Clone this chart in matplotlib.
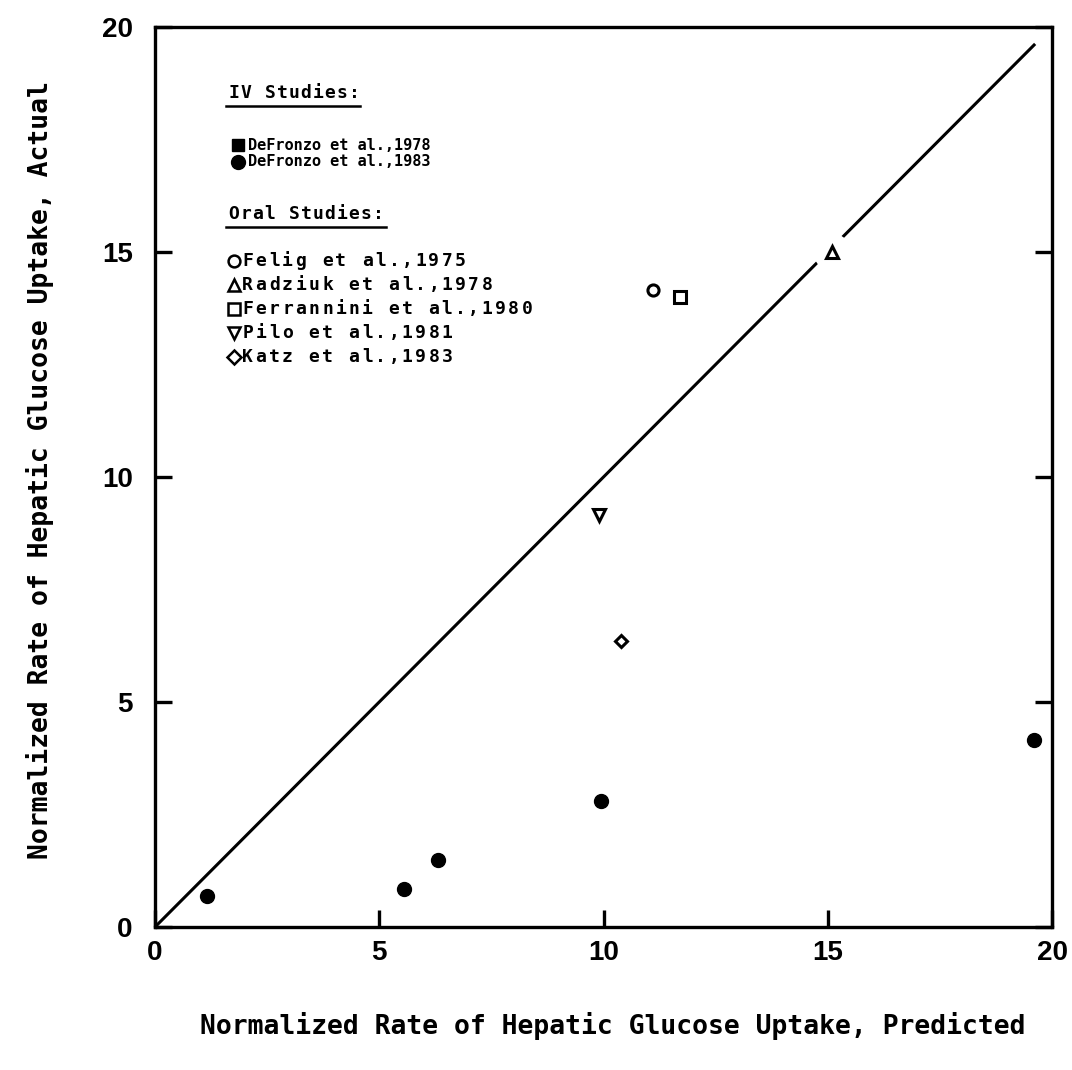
import matplotlib
matplotlib.use("Agg")
from matplotlib import pyplot as plt
from matplotlib.lines import Line2D

# predicted vs actual normalized hepatic glucose uptake
iv_1983_pred = [1.15, 5.55, 6.3, 9.95, 19.6]
iv_1983_act = [0.7, 0.85, 1.5, 2.8, 4.15]

oral_labels = ["Felig et al.,1975", "Radziuk et al.,1978", "Ferrannini et al.,1980",
               "Pilo et al.,1981", "Katz et al.,1983"]
oral_markers = ["o", "^", "s", "v", "D"]
oral_pred = [11.1, 15.1, 11.7, 9.9, 10.4]
oral_act = [14.15, 15.0, 14.0, 9.15, 6.35]

iv_labels = ["DeFronzo et al.,1978", "DeFronzo et al.,1983"]
iv_markers = ["s", "o"]

identity_end = 19.6
ticks = [0, 5, 10, 15, 20]

W, H = 1072, 1070
fig = plt.figure(figsize=(W / 100, H / 100), dpi=100)
ax = fig.add_axes([155 / W, (H - 927) / H, 897 / W, 900 / H])

# line of identity, with a break where the triangle sits
ax.plot([0, identity_end], [0, identity_end], color="black", lw=2.2, zorder=1)

ax.plot(iv_1983_pred, iv_1983_act, "o", color="black", ms=10, zorder=3)
for m, xp, yp in zip(oral_markers, oral_pred, oral_act):
    s = 6.5 if m == "D" else 8
    if m == "^":
        ax.plot(xp, yp, "o", color="white", ms=26, zorder=2)
    ax.plot(xp, yp, m, mfc="white", mec="black", mew=2.2, ms=s, zorder=3)

ax.set_xlim(0, 20)
ax.set_ylim(0, 20)
ax.set_xticks(ticks)
ax.set_yticks(ticks)
for sp in ax.spines.values():
    sp.set_linewidth(2.4)
ax.tick_params(direction="in", length=12, width=2.4, right=True, top=False,
               labelsize=20)
ax.tick_params(axis="x", pad=9)
ax.tick_params(axis="y", pad=16)
for lab in ax.get_xticklabels() + ax.get_yticklabels():
    lab.set_family("Liberation Sans")
    lab.set_weight("bold")

mono = dict(family="DejaVu Sans Mono", weight="bold")
fig.text(40 / W, 1 - 470 / H, "Normalized Rate of Hepatic Glucose Uptake, Actual",
         rotation=90, ha="center", va="center", fontsize=19, **mono)
fig.text(613 / W, 1 - 1026 / H, "Normalized Rate of Hepatic Glucose Uptake, Predicted",
         ha="center", va="center", fontsize=19, **mono)


def axpos(px, py):
    return (px - 155) / 897, (927 - py) / 900


def typed(text, px, py, pitch, size=13):
    # typewriter style: one character per fixed-width cell
    for i, ch in enumerate(text):
        x, y = axpos(px + pitch * (i + 0.5), py)
        ax.text(x, y, ch, transform=ax.transAxes, ha="center", va="center",
                fontsize=size, **mono)


def header(text, py, x1):
    typed(text, 228, py, 12.0)
    xa, ya = axpos(226, py + 13)
    xb, _ = axpos(x1, py + 13)
    ax.add_line(Line2D([xa, xb], [ya, ya], transform=ax.transAxes, color="black", lw=1.8))


header("IV Studies:", 93, 360)
for i, (lab, m) in enumerate(zip(iv_labels, iv_markers)):
    y = 145 + 17 * i
    xm, ym = axpos(238, y)
    ax.plot(xm, ym, m, color="black", ms=10 if m == "o" else 8.5,
            transform=ax.transAxes, clip_on=False)
    xt, _ = axpos(248, y)
    ax.text(xt, ym, lab, transform=ax.transAxes, ha="left", va="center",
            fontsize=11, **mono)

header("Oral Studies:", 214, 386)
for i, (lab, m) in enumerate(zip(oral_labels, oral_markers)):
    y = 261 + 24 * i
    xm, ym = axpos(234, y)
    ax.plot(xm, ym, m, mfc="white", mec="black", mew=1.8,
            ms=7 if m == "D" else 8.5, transform=ax.transAxes, clip_on=False)
    typed(lab, 241, y, 13.3)

fig.savefig("out.png", dpi=100)
